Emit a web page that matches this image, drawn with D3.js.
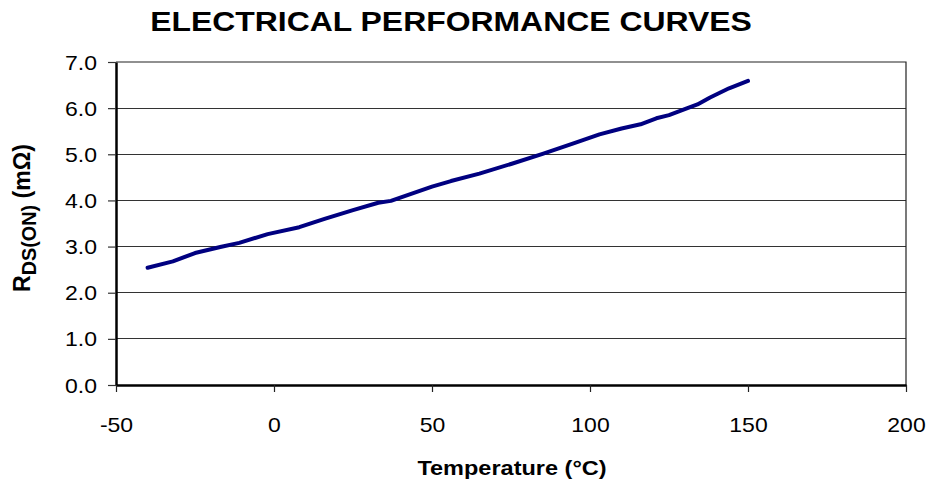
<!DOCTYPE html>
<html>
<head>
<meta charset="utf-8">
<script src="https://cdn.jsdelivr.net/npm/d3@7"></script>
<style>
html,body{margin:0;padding:0;background:#fff;}
svg{display:block;font-family:"Liberation Sans",Arial,sans-serif;}
</style>
</head>
<body>
<svg id="chart" width="933" height="484"></svg>
<script>
const titleText = "ELECTRICAL PERFORMANCE CURVES";
const xLabel = "Temperature (°C)";
const temperature = [-40, -32, -25, -17, -11, -2, 8, 16, 25, 33, 37, 50, 56, 65, 75, 85, 95, 103, 110, 116, 121, 125, 130, 134, 138, 144, 150];
const rdsOn = [2.54, 2.68, 2.86, 2.99, 3.08, 3.27, 3.42, 3.60, 3.79, 3.95, 3.99, 4.30, 4.42, 4.58, 4.79, 5.01, 5.24, 5.43, 5.56, 5.65, 5.78, 5.85, 5.98, 6.08, 6.23, 6.43, 6.59];
const xTicks = [-50, 0, 50, 100, 150, 200];
const yTicks = [0, 1, 2, 3, 4, 5, 6, 7];

const svg = d3.select("#chart");
const SX = 1.15;
const x = d3.scaleLinear().domain([-50, 200]).range([116, 906]);
const y = d3.scaleLinear().domain([0, 7]).range([385, 62]);

// gridlines
svg.append("g").selectAll("line").data(yTicks.filter(d => d > 0 && d < 7)).join("line")
  .attr("x1", x(-50)).attr("x2", x(200))
  .attr("y1", d => y(d)).attr("y2", d => y(d))
  .attr("stroke", "#333").attr("stroke-width", 1).attr("shape-rendering", "crispEdges");

// frame top/right
svg.append("path")
  .attr("d", `M${x(-50)},${y(7)}H${x(200)}V${y(0)}`)
  .attr("fill", "none").attr("stroke", "#222").attr("stroke-width", 1.2);

// y axis
const yAxis = svg.append("g").attr("transform", `translate(${x(-50)},0)`)
  .call(d3.axisLeft(y).tickValues(yTicks).tickSize(8).tickSizeOuter(0).tickFormat(d3.format(".1f")));
yAxis.select(".domain").attr("stroke", "#000").attr("stroke-width", 2.5);
yAxis.selectAll(".tick line").attr("stroke", "#333").attr("stroke-width", 1.2);
yAxis.selectAll(".tick text")
  .attr("x", null).attr("dy", null)
  .attr("transform", `translate(-19,7) scale(${SX},1)`)
  .attr("font-size", 20).attr("fill", "#000").attr("text-anchor", "end")
  .attr("font-family", "'Liberation Sans', Arial, sans-serif");

// x axis
const xAxis = svg.append("g").attr("transform", `translate(0,${y(0)})`)
  .call(d3.axisBottom(x).tickValues(xTicks).tickSize(7).tickSizeOuter(0).tickFormat(d3.format("d")));
xAxis.select(".domain").attr("stroke", "#000").attr("stroke-width", 2.5);
xAxis.selectAll(".tick line").attr("stroke", "#222").attr("stroke-width", 1.2);
xAxis.selectAll(".tick text")
  .attr("y", null).attr("dy", null)
  .attr("transform", `translate(0,47) scale(${SX},1)`)
  .attr("font-size", 20).attr("fill", "#000").attr("text-anchor", "middle")
  .attr("font-family", "'Liberation Sans', Arial, sans-serif");
xAxis.selectAll(".tick text").text(d => d);

// line
const line = d3.line().x((d, i) => x(temperature[i])).y(d => y(d));
svg.append("path").datum(rdsOn)
  .attr("d", line)
  .attr("fill", "none").attr("stroke", "#000080").attr("stroke-width", 4)
  .attr("stroke-linecap", "round").attr("stroke-linejoin", "round");

// title
svg.append("text")
  .attr("transform", `translate(451,31) scale(1.14,1)`)
  .attr("text-anchor", "middle").attr("font-weight", "bold").attr("font-size", 28)
  .text(titleText);

// x label
svg.append("text")
  .attr("transform", `translate(512,475) scale(1.12,1)`)
  .attr("text-anchor", "middle").attr("font-weight", "bold").attr("font-size", 21)
  .text(xLabel);

// y label
const yl = svg.append("text")
  .attr("transform", `translate(30,218) rotate(-90) scale(1.1,${SX})`)
  .attr("text-anchor", "middle").attr("font-weight", "bold").attr("font-size", 21);
yl.append("tspan").text("R");
yl.append("tspan").attr("font-size", 18).attr("dy", 5).text("DS(ON)");
yl.append("tspan").attr("dy", -5).text(" (mΩ)");
</script>
</body>
</html>
